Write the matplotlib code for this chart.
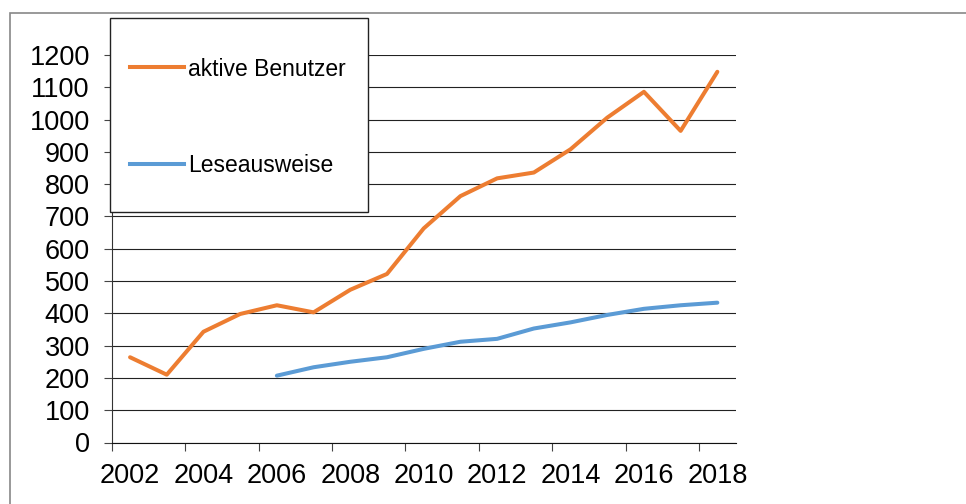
import matplotlib
matplotlib.use("Agg")
import matplotlib.pyplot as plt
from matplotlib.patches import Rectangle
from matplotlib.lines import Line2D
import numpy as np

plt.rcParams['font.family'] = ['Liberation Sans', 'DejaVu Sans']

years_active = list(range(2002, 2019))
active_users = [264, 210, 343, 398, 425, 403, 473, 522, 663, 763, 818, 836,
                908, 1006, 1086, 965, 1148]
years_cards = list(range(2006, 2019))
library_cards = [207, 233, 250, 264, 290, 312, 321, 353, 372, 395, 414, 425, 433]
label_active = "aktive Benutzer"
label_cards = "Leseausweise"
x_labels = [str(y) for y in range(2002, 2019, 2)]
y_ticks = list(range(0, 1201, 100))

W, H = 966, 504
fig = plt.figure(figsize=(W / 100, H / 100), dpi=100)
ax = fig.add_axes([111.7 / W, (H - 442.5) / H, 624 / W, (442.5 - 55) / H])

ax.plot(years_active, active_users, color='#ED7D31', lw=2.9,
        solid_capstyle='round', solid_joinstyle='round', zorder=3)
ax.plot(years_cards, library_cards, color='#5B9BD5', lw=2.9,
        solid_capstyle='round', solid_joinstyle='round', zorder=3)

ax.set_xlim(2001.5, 2018.5)
ax.set_ylim(0, 1200)
ax.set_yticks(y_ticks)
ax.set_yticklabels([str(v) for v in y_ticks])
ax.yaxis.grid(True, color='#222222', lw=0.8)
ax.set_axisbelow(True)

ax.set_xticks(np.arange(2001.5, 2018.5, 2))
ax.set_xticklabels([])
ax.set_xticks(list(range(2002, 2019, 2)), minor=True)
ax.set_xticklabels(x_labels, minor=True)
ax.tick_params(axis='x', which='major', length=5.8, width=0.8, color='#444444', direction='out')
ax.tick_params(axis='x', which='minor', length=0, pad=15, labelsize=19.5)
ax.tick_params(axis='y', length=5.8, width=0.8, color='#444444', pad=10, labelsize=19.5)

for s in ['top', 'right']:
    ax.spines[s].set_visible(False)
ax.spines['left'].set_color('#333333')
ax.spines['bottom'].set_color('#111111')
ax.spines['left'].set_linewidth(0.8)
ax.spines['bottom'].set_linewidth(0.8)

# figure border (gray)
fig.patches.append(Rectangle((10 / W, -0.05), 1.2, (H - 12.7) / H + 0.05,
                             transform=fig.transFigure, fill=False,
                             edgecolor='#888888', lw=1.2, zorder=1))

# legend frame
fig.patches.append(Rectangle((109.7 / W, (H - 212.3) / H), (367.7 - 109.7) / W,
                             (212.3 - 18.3) / H, transform=fig.transFigure,
                             facecolor='white', edgecolor='#222222', lw=1.0, zorder=4))

handles = [Line2D([], [], color='#ED7D31', lw=2.9),
           Line2D([], [], color='#5B9BD5', lw=2.9)]
leg = fig.legend(handles, [label_active, label_cards], loc='upper left',
                 bbox_to_anchor=(130 / W, (H - 57.5) / H), frameon=False,
                 fontsize=16.5, handlelength=2.35, handletextpad=0.2,
                 borderpad=0, borderaxespad=0, labelspacing=3.2)
leg.set_zorder(5)

fig.savefig("out.png", dpi=100)
